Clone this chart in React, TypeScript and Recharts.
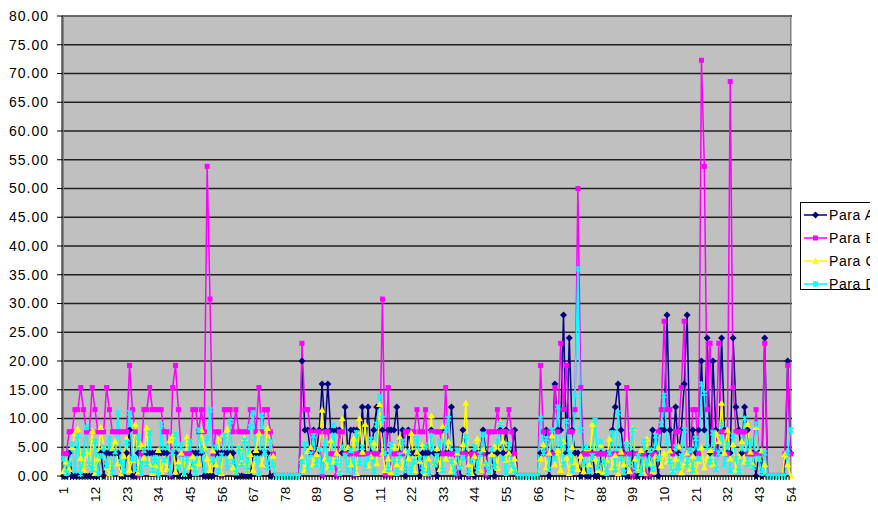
import React from 'react';
import { LineChart, Line, XAxis, YAxis, CartesianGrid, ReferenceArea } from 'recharts';

const categories: number[] = Array.from({ length: 254 }, (_, i) => i + 1);
const xTickLabels: number[] = [1, 12, 23, 34, 45, 56, 67, 78, 89, 100, 111, 122, 133, 144, 155, 166, 177, 188, 199, 210, 221, 232, 243, 254];
const yTicks: number[] = [0, 5, 10, 15, 20, 25, 30, 35, 40, 45, 50, 55, 60, 65, 70, 75, 80];
const seriesNames: string[] = ['Para A', 'Para B', 'Para C', 'Para D'];

const paraA: number[] = [
  0, 0, 4, 0, 0, 0, 0, 0, 0, 0,
  0, 0, 0, 4, 0, 4, 4, 4, 4, 4,
  0, 0, 4, 8, 0, 0, 4, 4, 4, 4,
  4, 4, 4, 4, 4, 4, 4, 0, 0, 4,
  0, 0, 0, 0, 0, 4, 4, 4, 4, 0,
  0, 0, 0, 4, 4, 4, 4, 4, 4, 4,
  0, 0, 0, 0, 0, 0, 4, 4, 4, 4,
  4, 4, 0, 0, 0, 0, 0, 0, 0, 0,
  0, 0, 0, 20, 8, 8, 4, 8, 4, 8,
  16, 8, 16, 8, 8, 8, 8, 4, 12, 4,
  8, 8, 8, 4, 12, 4, 12, 4, 8, 12,
  4, 8, 4, 8, 8, 8, 12, 4, 8, 0,
  8, 4, 4, 4, 0, 4, 4, 4, 8, 4,
  0, 4, 8, 4, 4, 12, 4, 4, 0, 8,
  4, 0, 4, 0, 4, 4, 8, 4, 0, 4,
  0, 4, 8, 4, 8, 4, 4, 8, 0, 0,
  0, 0, 0, 0, 0, 0, 4, 4, 8, 0,
  4, 16, 8, 8, 28, 4, 24, 8, 4, 4,
  0, 4, 0, 0, 4, 0, 0, 4, 0, 4,
  4, 8, 12, 16, 8, 4, 0, 0, 4, 0,
  0, 4, 0, 4, 0, 8, 4, 0, 8, 8,
  28, 8, 4, 12, 4, 8, 16, 28, 4, 8,
  4, 8, 20, 8, 24, 4, 20, 8, 4, 24,
  8, 4, 4, 24, 12, 8, 4, 12, 8, 4,
  4, 0, 4, 0, 24, 0, 0, 0, 0, 0,
  0, 0, 20, 4,
];

const paraB: number[] = [
  3.85, 3.85, 7.69, 7.69, 11.54, 11.54, 15.38, 11.54, 7.69, 7.69,
  15.38, 11.54, 7.69, 7.69, 7.69, 15.38, 11.54, 7.69, 7.69, 7.69,
  7.69, 7.69, 7.69, 19.23, 11.54, 7.69, 0, 3.85, 11.54, 11.54,
  15.38, 11.54, 11.54, 11.54, 11.54, 7.69, 7.69, 0, 15.38, 19.23,
  11.54, 3.85, 3.85, 3.85, 3.85, 11.54, 11.54, 7.69, 11.54, 7.69,
  53.85, 30.77, 3.85, 7.69, 7.69, 0, 11.54, 11.54, 11.54, 7.69,
  11.54, 7.69, 7.69, 7.69, 7.69, 11.54, 11.54, 7.69, 15.38, 7.69,
  11.54, 11.54, 7.69, 3.85, 0, 0, 0, 0, 0, 0,
  0, 0, 0, 23.08, 11.54, 11.54, 7.69, 3.85, 7.69, 7.69,
  0, 7.69, 7.69, 3.85, 3.85, 0, 7.69, 7.69, 3.85, 3.85,
  3.85, 0, 3.85, 3.85, 3.85, 3.85, 3.85, 3.85, 3.85, 3.85,
  3.85, 30.77, 0, 15.38, 0, 3.85, 3.85, 3.85, 3.85, 7.69,
  7.69, 7.69, 7.69, 11.54, 7.69, 7.69, 11.54, 0, 7.69, 7.69,
  7.69, 7.69, 3.85, 15.38, 3.85, 3.85, 3.85, 0, 3.85, 3.85,
  3.85, 0, 3.85, 3.85, 3.85, 3.85, 3.85, 0, 7.69, 7.69,
  7.69, 11.54, 7.69, 7.69, 7.69, 11.54, 7.69, 3.85, 0, 0,
  0, 0, 0, 0, 0, 0, 19.23, 7.69, 3.85, 7.69,
  3.85, 15.38, 7.69, 23.08, 11.54, 19.23, 7.69, 7.69, 11.54, 50,
  15.38, 3.85, 3.85, 3.85, 3.85, 3.85, 3.85, 3.85, 3.85, 3.85,
  3.85, 3.85, 3.85, 3.85, 3.85, 3.85, 15.38, 3.85, 0, 3.85,
  3.85, 3.85, 3.85, 0, 0, 3.85, 3.85, 7.69, 11.54, 26.92,
  11.54, 11.54, 3.85, 7.69, 7.69, 15.38, 26.92, 3.85, 3.85, 11.54,
  11.54, 3.85, 72.3, 53.85, 11.54, 23.08, 7.69, 3.85, 23.08, 7.69,
  7.69, 3.85, 68.6, 15.38, 7.69, 7.69, 7.69, 7.69, 3.85, 3.85,
  3.85, 11.54, 3.85, 3.85, 23.08, 0, 0, 0, 0, 0,
  0, 3.85, 19.23, 3.85,
];

const paraC: number[] = [
  0.8, 2.5, 1.2, 5.0, 7.5, 8.2, 3.1, 1.0, 4.2, 2.0,
  7.8, 0.5, 3.0, 8.5, 5.2, 1.5, 0.3, 4.8, 6.0, 2.2,
  0.4, 3.5, 6.5, 1.0, 2.8, 9.0, 0.6, 5.5, 3.2, 8.4,
  2.0, 0.5, 1.8, 4.5, 0.8, 3.0, 1.2, 6.2, 7.0, 0.7,
  2.5, 4.0, 0.3, 6.8, 1.6, 3.4, 0.5, 2.2, 8.0, 5.0,
  3.0, 1.0, 4.4, 2.0, 6.5, 0.5, 7.2, 8.2, 3.5, 1.4,
  0.6, 5.0, 2.4, 6.6, 0.9, 3.8, 1.0, 4.5, 7.5, 2.0,
  4.0, 8.3, 6.0, 3.5, 0, 0, 0, 0, 0, 0,
  0, 0, 0, 3.2, 1.0, 4.3, 5.0, 2.0, 3.8, 4.8,
  11.5, 3.0, 1.5, 6.2, 2.4, 4.0, 0.8, 10.0, 3.5, 5.0,
  2.0, 6.5, 0.5, 10.0, 4.2, 9.0, 1.8, 3.4, 5.8, 2.2,
  12.5, 4.0, 1.0, 3.0, 0.6, 5.2, 2.0, 6.8, 1.5, 4.4,
  3.0, 7.5, 1.0, 4.2, 2.6, 5.5, 0.4, 3.0, 10.5, 2.0,
  4.8, 1.2, 8.6, 3.0, 6.0, 0.9, 2.5, 4.0, 1.6, 5.5,
  12.7, 2.0, 0.5, 3.5, 6.5, 1.0, 4.6, 2.2, 0.7, 3.8,
  5.2, 1.4, 9.5, 6.0, 2.8, 4.0, 1.0, 3.0, 0, 0,
  0, 0, 0, 0, 0, 0, 3.0, 5.5, 1.5, 4.0,
  7.0, 2.0, 4.5, 1.0, 6.0, 3.2, 0.5, 5.0, 2.4, 1.2,
  3.5, 0.8, 4.8, 2.0, 9.0, 3.0, 1.0, 5.4, 0.6, 2.8,
  6.5, 1.5, 3.6, 0.4, 4.2, 2.0, 6.0, 0.8, 8.2, 3.0,
  1.0, 4.5, 0.5, 6.5, 2.2, 0.9, 3.5, 5.0, 1.8, 4.0,
  2.5, 4.4, 1.0, 3.0, 5.2, 0.6, 2.0, 4.0, 1.2, 3.5,
  0.8, 2.6, 5.0, 1.5, 3.2, 4.5, 2.0, 7.5, 6.0, 12.7,
  4.0, 8.0, 3.0, 5.5, 1.0, 3.5, 6.0, 2.5, 9.0, 4.2,
  2.0, 8.5, 3.0, 4.4, 2.0, 0, 0, 0, 0, 0,
  0, 3.8, 2.0, 0,
];

const paraD: number[] = [
  3.0, 0.5, 2.2, 5.5, 1.0, 7.0, 0.3, 4.0, 8.5, 2.0,
  1.2, 6.0, 0.4, 3.5, 5.0, 1.8, 6.5, 0.6, 4.2, 11.0,
  2.5, 0.8, 5.8, 11.0, 3.0, 1.2, 6.8, 0.5, 4.5, 2.0,
  7.5, 1.0, 3.2, 0.2, 9.0, 2.8, 5.0, 0.6, 4.0, 7.2,
  1.5, 5.5, 0.4, 3.0, 6.0, 2.0, 0.5, 8.0, 4.4, 1.0,
  6.5, 11.5, 2.8, 5.0, 0.8, 3.6, 7.0, 1.4, 9.5, 2.5,
  0.6, 4.8, 2.0, 6.2, 1.0, 8.5, 11.0, 3.0, 0.4, 10.5,
  4.0, 1.5, 6.0, 2.0, 0, 0, 0, 0, 0, 0,
  0, 0, 0, 2.5, 5.5, 1.0, 3.8, 7.0, 2.0, 4.6,
  0.8, 6.0, 3.0, 1.5, 8.8, 2.4, 0.5, 5.0, 3.5, 1.0,
  4.5, 0.6, 7.5, 2.2, 5.0, 1.4, 3.0, 6.4, 0.8, 9.0,
  13.8, 10.0, 4.0, 1.2, 5.5, 2.8, 0.5, 3.6, 6.0, 1.0,
  4.2, 0.7, 2.5, 6.5, 3.0, 1.0, 5.4, 0.4, 7.0, 2.0,
  3.5, 6.0, 1.0, 8.0, 10.0, 2.5, 0.6, 4.5, 1.5, 3.2,
  6.8, 0.5, 2.6, 5.0, 1.0, 3.8, 7.2, 2.0, 0.8, 4.6,
  1.6, 6.0, 9.0, 3.0, 0.5, 5.5, 2.0, 1.0, 0, 0,
  0, 0, 0, 0, 0, 0, 10.0, 4.0, 6.5, 1.2,
  8.0, 3.0, 12.0, 5.5, 2.0, 9.5, 4.0, 1.0, 14.0, 36.0,
  8.0, 2.0, 5.0, 0.8, 3.5, 9.7, 1.5, 6.0, 2.5, 0.5,
  4.0, 7.5, 1.2, 11.0, 3.0, 0.6, 5.5, 2.0, 8.0, 1.0,
  3.5, 0.5, 6.0, 2.0, 4.5, 1.2, 7.0, 3.0, 9.0, 14.0,
  6.0, 2.5, 0.8, 5.0, 1.5, 3.5, 8.0, 2.0, 4.5, 1.0,
  6.5, 3.0, 16.0, 14.4, 5.0, 2.5, 7.5, 1.2, 4.0, 9.0,
  2.0, 5.5, 1.0, 7.0, 3.0, 0.8, 4.8, 10.0, 2.0, 6.0,
  1.5, 9.0, 3.0, 0.5, 4.0, 0, 0, 0, 0, 0,
  0, 0, 4.0, 8.0,
];

const data = categories.map((c, i) => ({
  cat: c,
  A: paraA[i],
  B: paraB[i],
  C: paraC[i],
  D: paraD[i],
}));

const COLORS = ['#000080', '#FF00FF', '#FFFF00', '#00FFFF'];
const FONT = '"Liberation Sans", Arial, sans-serif';

function marker(kind: number, cx: number, cy: number, key?: any) {
  const c = COLORS[kind];
  if (kind === 0) {
    return <path key={key} d={`M${cx},${cy - 3.5}L${cx + 3.5},${cy}L${cx},${cy + 3.5}L${cx - 3.5},${cy}Z`} fill={c} />;
  }
  if (kind === 1) {
    return <rect key={key} x={cx - 2.5} y={cy - 2.5} width={5} height={5} fill={c} />;
  }
  if (kind === 2) {
    return <path key={key} d={`M${cx},${cy - 3.5}L${cx + 3.5},${cy + 2.8}L${cx - 3.5},${cy + 2.8}Z`} fill={c} />;
  }
  return (
    <path
      key={key}
      d={`M${cx - 2.5},${cy - 2.5}L${cx + 2.5},${cy + 2.5}M${cx + 2.5},${cy - 2.5}L${cx - 2.5},${cy + 2.5}M${cx},${cy - 3}L${cx},${cy + 3}`}
      stroke={c}
      strokeWidth={1.5}
      fill="none"
    />
  );
}

const makeDot = (kind: number) => (p: any) => {
  if (p.cx == null || p.cy == null) return <g key={p.index} />;
  return marker(kind, p.cx, p.cy, p.index);
};

const XTick = (p: any) => {
  const { x, y, payload } = p;
  const v = payload.value;
  const show = xTickLabels.includes(v);
  return (
    <g transform={`translate(${x},${y})`}>
      <line x1={-1.44} x2={-1.44} y1={0} y2={4} stroke="#000" strokeWidth={1} />
      {show && (
        <text
          transform="rotate(-90)"
          x={-10.5}
          y={5}
          textAnchor="end"
          fontSize={13.5}
          fontFamily={FONT}
          letterSpacing={0.2}
          fill="#000"
        >
          {v}
        </text>
      )}
    </g>
  );
};

export default function App() {
  return (
    <div style={{ position: 'relative', width: 878, height: 510, margin: -8, overflow: 'hidden', background: '#fff' }}>
      <LineChart width={878} height={510} data={data} margin={{ top: 16, right: 86, bottom: 0, left: 0 }}>
        <CartesianGrid vertical={false} stroke="#202020" strokeWidth={1.5} fill="#C0C0C0" fillOpacity={1} />
        <XAxis
          dataKey="cat"
          type="category"
          interval={0}
          height={34}
          padding={{ left: 1.44, right: 1.44 }}
          tickLine={false}
          tickSize={0}
          tickMargin={0}
          axisLine={{ stroke: '#000', strokeWidth: 1 }}
          tick={<XTick />}
        />
        <YAxis
          width={62}
          domain={[0, 80]}
          ticks={yTicks}
          interval={0}
          tickFormatter={(v: number) => v.toFixed(2)}
          tickSize={5}
          tickMargin={8}
          tickLine={{ stroke: '#000' }}
          axisLine={{ stroke: '#000', strokeWidth: 1 }}
          tick={{ fontSize: 14, fill: '#000', fontFamily: FONT, letterSpacing: 1 }}
        />
        <ReferenceArea y1={0} y2={80} fill="none" stroke="#808080" strokeWidth={1} ifOverflow="visible" />
        <Line dataKey="A" name={seriesNames[0]} stroke={COLORS[0]} strokeWidth={1.5} dot={makeDot(0)} activeDot={false} isAnimationActive={false} />
        <Line dataKey="B" name={seriesNames[1]} stroke={COLORS[1]} strokeWidth={1.5} dot={makeDot(1)} activeDot={false} isAnimationActive={false} />
        <Line dataKey="C" name={seriesNames[2]} stroke={COLORS[2]} strokeWidth={1.5} dot={makeDot(2)} activeDot={false} isAnimationActive={false} />
        <Line dataKey="D" name={seriesNames[3]} stroke={COLORS[3]} strokeWidth={1.5} dot={makeDot(3)} activeDot={false} isAnimationActive={false} />
      </LineChart>
      <div
        style={{
          position: 'absolute',
          left: 800,
          top: 202,
          width: 100,
          height: 88,
          border: '1px solid #000',
          background: '#fff',
          overflow: 'hidden',
          boxSizing: 'border-box',
        }}
      >
        <svg width={100} height={86} style={{ display: 'block' }}>
          {seriesNames.map((name, k) => (
            <g key={name} transform={`translate(0,${12 + k * 23})`}>
              <line x1={3} x2={26} y1={0} y2={0} stroke={COLORS[k]} strokeWidth={1.5} />
              {marker(k, 14.5, 0)}
              <text x={28} y={5} fontSize={14} fontFamily={FONT} letterSpacing={0.6} fill="#000">
                {name}
              </text>
            </g>
          ))}
        </svg>
      </div>
    </div>
  );
}
